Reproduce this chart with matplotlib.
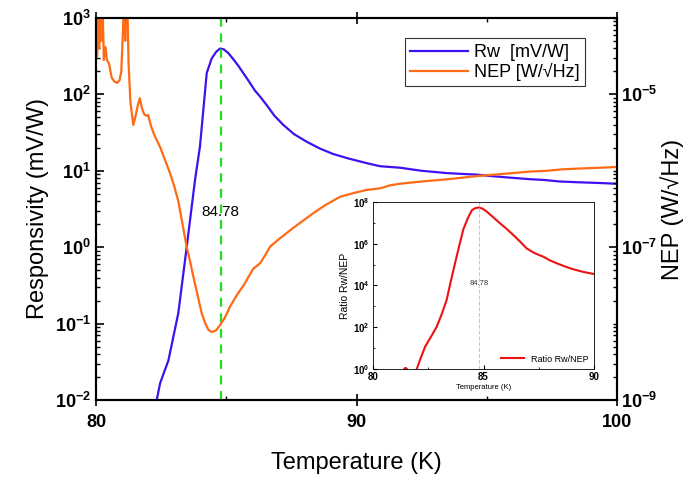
import numpy as np
import matplotlib
matplotlib.use("Agg")
import matplotlib.pyplot as plt
from matplotlib.ticker import LogLocator, FuncFormatter, NullFormatter, MultipleLocator, FixedLocator

plt.rcParams['font.family'] = ['Liberation Sans', 'DejaVu Sans']
plt.rcParams['mathtext.fontset'] = 'custom'
plt.rcParams['mathtext.bf'] = 'Liberation Sans:bold'
plt.rcParams['mathtext.rm'] = 'Liberation Sans'

# responsivity Rw (mV/W), log10 values
rw_T = [82.33, 82.46, 82.78, 83.16, 83.48, 83.8, 83.99, 84.25, 84.44, 84.62, 84.76,
        84.9, 85.08, 85.27, 85.45, 85.65, 85.85, 86.1, 86.3, 86.55, 86.85, 87.19,
        87.6, 88.09, 88.6, 89.1, 89.7, 90.39, 90.9, 91.67, 92.5, 93.46, 94.0,
        94.6, 95.2, 95.9, 96.66, 97.2, 97.8, 98.5, 99.35, 100.0]
rw_log = [-2.0, -1.78, -1.48, -0.86, 0.0, 0.88, 1.32, 2.28, 2.47, 2.56, 2.6,
          2.59, 2.54, 2.46, 2.38, 2.28, 2.18, 2.05, 1.97, 1.86, 1.72, 1.6,
          1.48, 1.38, 1.29, 1.22, 1.16, 1.1, 1.06, 1.04, 1.0, 0.97, 0.96,
          0.95, 0.93, 0.91, 0.89, 0.88, 0.86, 0.85, 0.84, 0.83]

# NEP, log10 values read on the left-axis scale (NEP decade = value - 7)
nep_T = [80.0, 80.04, 80.08, 80.12, 80.16, 80.2, 80.25, 80.3, 80.36, 80.42, 80.5,
         80.6, 80.7, 80.8, 80.9, 80.97, 81.03, 81.08, 81.12, 81.16, 81.2, 81.25,
         81.32, 81.43, 81.52, 81.6, 81.68, 81.76, 81.85, 81.93, 82.0, 82.1, 82.2,
         82.33, 82.46, 82.65, 82.84, 83.0, 83.16, 83.32, 83.48, 83.62, 83.74,
         83.9, 84.06, 84.2, 84.31, 84.44, 84.6, 84.76, 84.95, 85.14, 85.4,
         85.72, 85.9, 86.04, 86.3, 86.5, 86.68, 87.0, 87.3, 87.6, 88.0, 88.4,
         88.8, 89.37, 89.9, 90.4, 90.9, 91.29, 91.67, 92.2, 92.82, 93.2, 93.8,
         94.6, 95.3, 96.0, 96.66, 97.3, 97.94, 98.6, 99.35, 100.0]
nep_left_log = [3.3, 2.5, 3.2, 2.6, 3.1, 2.7, 3.2, 2.45, 2.62, 2.45, 2.4,
                2.22, 2.17, 2.15, 2.18, 2.3, 2.8, 3.3, 2.7, 3.3, 3.2, 2.4,
                1.9, 1.6, 1.72, 1.85, 1.95, 1.82, 1.74, 1.72, 1.73, 1.6, 1.5,
                1.4, 1.31, 1.14, 0.97, 0.8, 0.6, 0.3, 0.006, -0.2, -0.39,
                -0.63, -0.87, -1.0, -1.08, -1.11, -1.09, -1.02, -0.92, -0.78, -0.63,
                -0.47, -0.36, -0.28, -0.21, -0.1, 0.006, 0.1, 0.18, 0.26, 0.36, 0.46,
                0.55, 0.66, 0.71, 0.75, 0.77, 0.81, 0.83, 0.85, 0.87, 0.88, 0.9,
                0.93, 0.95, 0.97, 0.99, 1.0, 1.02, 1.03, 1.04, 1.05]

# ratio Rw/NEP for the inset, log10 values
ratio_T = [81.98, 82.15, 82.36, 82.6, 82.88, 83.1, 83.33, 83.52, 83.71, 83.9,
           84.09, 84.28, 84.47, 84.62, 84.77, 84.95, 85.15, 85.45, 85.75, 86.05,
           86.35, 86.65, 86.95, 87.3, 87.71, 88.0, 88.31, 88.7, 89.07, 89.5, 89.97]
ratio_log = [0.0, 0.5, 1.07, 1.5, 2.02, 2.6, 3.3, 4.2, 5.06, 5.9,
             6.7, 7.2, 7.6, 7.7, 7.73, 7.68, 7.53, 7.25, 6.97, 6.7,
             6.41, 6.1, 5.77, 5.55, 5.37, 5.2, 5.06, 4.9, 4.77, 4.65, 4.55]

nep_ticks = [1e-9, 1e-7, 1e-5]
T_peak = 84.78

blue = '#4010f0'
orange = '#ff6a14'
green = '#22dd22'
red = '#ee1111'


def bold_pow(v, pos):
    return r'$\mathbf{10^{%d}}$' % int(round(np.log10(v)))


fig = plt.figure(figsize=(6.83, 4.83), dpi=100)
ax = fig.add_axes([0.1406, 0.1718, 0.7628, 0.791])
ax2 = ax.twinx()

l1, = ax.plot(rw_T, 10 ** np.array(rw_log), color=blue, lw=1.6, label='Rw  [mV/W]')
l2, = ax2.plot(nep_T, 10 ** (np.array(nep_left_log) - 7), color=orange, lw=1.6,
               label='NEP [W/\u221aHz]')
ax.axvline(T_peak, color=green, lw=1.6, ls=(0, (4, 3)))
ax.text(T_peak, 2.9, '84.78', ha='center', va='center', fontsize=11)

ax.set_xlim(80, 100)
ax.set_yscale('log')
ax.set_ylim(1e-2, 1e3)
ax2.set_yscale('log')
ax2.set_ylim(1e-9, 1e-4)

ax.xaxis.set_major_locator(MultipleLocator(10))
ax.xaxis.set_minor_locator(MultipleLocator(5))
ax.yaxis.set_major_locator(LogLocator(base=10, numticks=10))
ax.yaxis.set_major_formatter(FuncFormatter(bold_pow))
ax.yaxis.set_minor_locator(LogLocator(base=10, subs=np.arange(2, 10), numticks=20))
ax.yaxis.set_minor_formatter(NullFormatter())
ax2.yaxis.set_major_locator(FixedLocator(nep_ticks))
ax2.yaxis.set_major_formatter(FuncFormatter(bold_pow))
ax2.yaxis.set_minor_locator(LogLocator(base=10, subs=np.arange(1, 10), numticks=20))
ax2.yaxis.set_minor_formatter(NullFormatter())

for a in (ax, ax2):
    a.tick_params(which='major', direction='in', length=6, width=1.2, labelsize=13)
    a.tick_params(which='minor', direction='in', length=3, width=1.0)
    for s in a.spines.values():
        s.set_linewidth(1.5)
ax.tick_params(axis='x', which='both', top=True)
ax.tick_params(axis='x', which='major', direction='inout', length=8, pad=6)
ax2.tick_params(axis='y', which='major', pad=3)
for t in ax.get_xticklabels():
    t.set_fontweight('bold')

ax.set_xlabel('Temperature (K)', fontsize=17, labelpad=15)
ax.set_ylabel('Responsivity (mV/W)', fontsize=17)
ax2.set_ylabel('NEP (W/\u221aHz)', fontsize=17, labelpad=2)

leg = ax.legend(handles=[l1, l2], loc='upper right', bbox_to_anchor=(0.955, 0.97),
                fontsize=13, frameon=True, fancybox=False, handlelength=3.2,
                borderpad=0.3, labelspacing=0.1, handletextpad=0.3)
leg.get_frame().set_edgecolor('black')
leg.get_frame().set_linewidth(0.8)

# inset
axi = fig.add_axes([0.546, 0.236, 0.324, 0.346])
li, = axi.plot(ratio_T, 10 ** np.array(ratio_log), color=red, lw=1.5, label='Ratio Rw/NEP')
axi.plot([81.45], [1.05], 'o', color=red, ms=2.5)
axi.axvline(T_peak, color='#88ee88', lw=0.7, ls=(0, (4, 2)))
axi.text(T_peak, 1.2e4, '84.78', ha='center', va='center', fontsize=5.5, color='#333333')
axi.set_xlim(80, 90)
axi.set_yscale('log')
axi.set_ylim(1, 1e8)
axi.xaxis.set_major_locator(MultipleLocator(5))
axi.xaxis.set_minor_locator(MultipleLocator(2.5))
axi.yaxis.set_major_locator(LogLocator(base=100, numticks=10))
axi.yaxis.set_major_formatter(FuncFormatter(bold_pow))
axi.yaxis.set_minor_locator(LogLocator(base=10, numticks=20))
axi.yaxis.set_minor_formatter(NullFormatter())
axi.tick_params(which='major', direction='in', length=3, width=0.8, labelsize=7, pad=2.5)
axi.tick_params(which='minor', direction='in', length=1.5, width=0.6)
for t in axi.get_xticklabels():
    t.set_fontweight('bold')
for s in axi.spines.values():
    s.set_linewidth(0.6)
axi.set_xlabel('Temperature (K)', fontsize=5.5, labelpad=1)
axi.set_ylabel('Ratio Rw/NEP', fontsize=7.5, labelpad=2)
axi.legend(handles=[li], loc='lower right', fontsize=6.5, frameon=False,
           handlelength=2.5, borderaxespad=0.2)

fig.savefig('out.png', dpi=100)
